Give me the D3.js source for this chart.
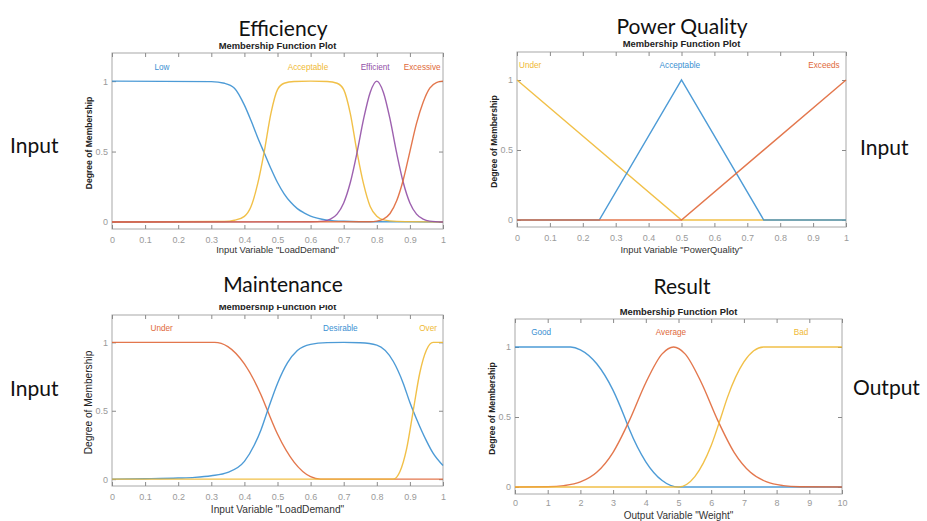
<!DOCTYPE html>
<html>
<head>
<meta charset="utf-8">
<script src="https://cdn.jsdelivr.net/npm/d3@7"></script>
<style>
  body { margin: 0; background: #fff; }
  svg text { font-family: "Liberation Sans", Arial, sans-serif; }
</style>
</head>
<body>
<div id="chart"></div>
<script>
var W = 927, H = 521;

// colours (MATLAB defaults, slightly softened)
var BLUE = '#3a90d2', ORANGE = '#e0683a', YELLOW = '#efb934', PURPLE = '#9250a6';

// ---- Efficiency (x: LoadDemand 0..1)
var effLow = [[0,1],[0.3,0.997],[0.34,0.985],[0.37,0.95],[0.4,0.83],[0.42,0.72],[0.44,0.6],[0.46,0.49],[0.48,0.38],[0.5,0.28],[0.52,0.2],[0.54,0.14],[0.56,0.095],[0.58,0.065],[0.6,0.042],[0.62,0.027],[0.65,0.013],[0.7,0.005],[0.8,0.001],[1,0]];
var effAcceptable = [[0,0],[0.34,0.003],[0.37,0.012],[0.4,0.04],[0.42,0.11],[0.44,0.27],[0.46,0.5],[0.48,0.77],[0.5,0.94],[0.52,0.985],[0.55,0.998],[0.6,1],[0.65,0.998],[0.68,0.985],[0.7,0.94],[0.72,0.77],[0.74,0.5],[0.76,0.27],[0.78,0.11],[0.8,0.04],[0.82,0.015],[0.86,0.004],[1,0]];
var effEfficient = [[0,0],[0.6,0.001],[0.64,0.006],[0.66,0.02],[0.68,0.056],[0.7,0.135],[0.72,0.28],[0.74,0.49],[0.76,0.73],[0.78,0.92],[0.8,1],[0.82,0.92],[0.84,0.73],[0.86,0.49],[0.88,0.28],[0.9,0.135],[0.92,0.056],[0.94,0.02],[0.96,0.006],[1,0]];
var effExcessive = [[0,0],[0.78,0.001],[0.8,0.006],[0.82,0.02],[0.84,0.06],[0.86,0.15],[0.88,0.3],[0.9,0.5],[0.92,0.7],[0.94,0.85],[0.96,0.95],[0.98,0.99],[1,1]];

// ---- Power Quality (triangles)
var pqUnder = [[0,1],[0.5,0],[1,0]];
var pqAcceptable = [[0,0],[0.25,0],[0.5,1],[0.75,0],[1,0]];
var pqExceeds = [[0,0],[0.5,0],[1,1]];

// ---- Maintenance
var mtUnder = [[0,1],[0.31,1],[0.35,0.969],[0.4,0.842],[0.45,0.617],[0.47,0.5],[0.5,0.33],[0.55,0.125],[0.6,0.018],[0.63,0],[1,0]];
var mtDesirable = [[0,0],[0.1,0.003],[0.2,0.008],[0.25,0.013],[0.3,0.025],[0.35,0.05],[0.4,0.13],[0.43,0.25],[0.45,0.36],[0.47,0.5],[0.5,0.7],[0.53,0.85],[0.56,0.94],[0.6,0.985],[0.65,0.998],[0.7,1],[0.75,0.997],[0.8,0.98],[0.85,0.86],[0.88,0.7],[0.9,0.56],[0.92,0.44],[0.95,0.28],[0.97,0.19],[1,0.1]];
var mtOver = [[0,0],[0.85,0],[0.87,0.056],[0.89,0.222],[0.91,0.5],[0.93,0.778],[0.95,0.944],[0.97,1],[1,1]];

// ---- Result (x: Weight 0..10)
var rsGood = [[0,1],[1.7,1],[2,0.98],[2.5,0.88],[3,0.69],[3.35,0.5],[3.5,0.41],[4,0.18],[4.5,0.046],[5,0],[10,0]];
var rsAverage = [[0,0],[1,0.002],[1.5,0.01],[2,0.036],[2.5,0.105],[3,0.248],[3.5,0.476],[4,0.745],[4.5,0.951],[4.85,1],[5.2,0.951],[5.7,0.745],[6.2,0.476],[6.7,0.248],[7.2,0.105],[7.7,0.036],[8.2,0.01],[8.7,0.002],[10,0]];
var rsBad = [[0,0],[5,0],[5.5,0.074],[6,0.296],[6.3,0.5],[6.5,0.642],[7,0.893],[7.3,0.973],[7.6,1],[10,1]];

var xTicks01 = [0,0.1,0.2,0.3,0.4,0.5,0.6,0.7,0.8,0.9,1];
var xTicks10 = [0,1,2,3,4,5,6,7,8,9,10];
var yTicks = [0,0.5,1];

var panels = [
  { title: 'Efficiency', box: [112,53,443,229], tx: 283, ty: 36, sy: 49, xdom: [0,1], ticks: xTicks01, tickY: 243, xlab: 'Input Variable "LoadDemand"', xlabY: 253, ylabBold: true, ylabSize: 8.6,
    series: [
      { data: effLow, color: BLUE, name: 'Low', lx: 0.151 },
      { data: effAcceptable, color: YELLOW, name: 'Acceptable', lx: 0.592 },
      { data: effEfficient, color: PURPLE, name: 'Efficient', lx: 0.795 },
      { data: effExcessive, color: ORANGE, name: 'Excessive', lx: 0.937 }
    ], labY: 70, smooth: true },
  { title: 'Power Quality', box: [517,52,846,227], tx: 682, ty: 34, sy: 47, xdom: [0,1], ticks: xTicks01, tickY: 241, xlab: 'Input Variable "PowerQuality"', xlabY: 253, ylabBold: true, ylabSize: 8.6,
    series: [
      { data: pqUnder, color: YELLOW, name: 'Under', lx: 0.0, anchor: 'start' },
      { data: pqAcceptable, color: BLUE, name: 'Acceptable', lx: 0.495 },
      { data: pqExceeds, color: ORANGE, name: 'Exceeds', lx: 0.933 }
    ], labY: 68, smooth: false },
  { title: 'Maintenance', box: [112,315,443,486], tx: 283, ty: 292, sy: 310, clipTop: 305, xdom: [0,1], ticks: xTicks01, tickY: 500, xlab: 'Input Variable "LoadDemand"', xlabY: 513, xlabSize: 10.2, ylabBold: false, ylabSize: 10.2,
    series: [
      { data: mtUnder, color: ORANGE, name: 'Under', lx: 0.15 },
      { data: mtDesirable, color: BLUE, name: 'Desirable', lx: 0.69 },
      { data: mtOver, color: YELLOW, name: 'Over', lx: 0.955 }
    ], labY: 331, smooth: true },
  { title: 'Result', box: [515,319,842,494], tx: 682, ty: 294, sy: 315, xdom: [0,10], ticks: xTicks10, tickY: 506, xlab: 'Output Variable "Weight"', xlabY: 519, xlabSize: 10, ylabBold: true, ylabSize: 8.6,
    series: [
      { data: rsGood, color: BLUE, name: 'Good', lx: 0.8 },
      { data: rsAverage, color: ORANGE, name: 'Average', lx: 4.77 },
      { data: rsBad, color: YELLOW, name: 'Bad', lx: 8.75 }
    ], labY: 335, smooth: true }
];

var sideLabels = [
  { text: 'Input', x: 10, y: 153, anchor: 'start' },
  { text: 'Input', x: 860, y: 155, anchor: 'start' },
  { text: 'Input', x: 10, y: 396, anchor: 'start' },
  { text: 'Output', x: 853, y: 395, anchor: 'start' }
];

var svg = d3.select('#chart').append('svg')
  .attr('width', W)
  .attr('height', H);

panels.forEach(function (p, pi) {
  var x0 = p.box[0], y0 = p.box[1], x1 = p.box[2], y1 = p.box[3];

  var xScale = d3.scaleLinear().domain(p.xdom).range([x0, x1]);
  var yScale = d3.scaleLinear().domain([-0.05, 1.2]).range([y1, y0]);

  var g = svg.append('g');

  // big title
  g.append('text')
    .attr('x', p.tx).attr('y', p.ty)
    .attr('text-anchor', 'middle')
    .style('font-family', 'Lato, "Open Sans", sans-serif')
    .style('font-size', '21px')
    .style('fill', '#111')
    .text(p.title);

  // small matlab title
  var sub = g.append('text')
    .attr('x', (x0 + x1) / 2).attr('y', p.sy)
    .attr('text-anchor', 'middle')
    .style('font-size', '9.4px')
    .style('font-weight', 'bold')
    .style('fill', '#222')
    .text('Membership Function Plot');
  if (p.clipTop) {
    svg.append('clipPath').attr('id', 'clip' + pi)
      .append('rect').attr('x', x0).attr('y', p.clipTop).attr('width', x1 - x0).attr('height', 20);
    sub.attr('clip-path', 'url(#clip' + pi + ')');
  }

  // box
  g.append('rect')
    .attr('x', x0).attr('y', y0)
    .attr('width', x1 - x0).attr('height', y1 - y0)
    .attr('fill', '#fff')
    .attr('stroke', '#a8a8a8')
    .attr('stroke-width', 1);

  // axes: bottom with labels, others tick only (inward)
  var bottom = d3.axisBottom(xScale).tickValues(p.ticks).tickSize(-4).tickPadding(6)
    .tickFormat(function (d) { return d3.format('~g')(d); });
  var top = d3.axisTop(xScale).tickValues(p.ticks).tickSize(-4).tickFormat('');
  var left = d3.axisLeft(yScale).tickValues(yTicks).tickSize(-4).tickPadding(4)
    .tickFormat(function (d) { return d3.format('~g')(d); });
  var right = d3.axisRight(yScale).tickValues(yTicks).tickSize(-4).tickFormat('');

  var gb = g.append('g').attr('transform', 'translate(0,' + y1 + ')').call(bottom);
  var gt = g.append('g').attr('transform', 'translate(0,' + y0 + ')').call(top);
  var gl = g.append('g').attr('transform', 'translate(' + x0 + ',0)').call(left);
  var gr = g.append('g').attr('transform', 'translate(' + x1 + ',0)').call(right);
  [gb, gt, gl, gr].forEach(function (a) {
    a.select('.domain').remove();
    a.selectAll('.tick line').attr('stroke', '#8a8a8a');
    a.selectAll('.tick text').style('fill', '#9a9a9a').style('font-size', '9px')
      .style('font-family', '"Liberation Sans", Arial, sans-serif');
  });
  gb.selectAll('.tick text').attr('y', null).attr('dy', null)
    .attr('y', p.tickY - y1);

  // axis labels
  g.append('text')
    .attr('x', (x0 + x1) / 2).attr('y', p.xlabY)
    .attr('text-anchor', 'middle')
    .style('font-size', (p.xlabSize || 9.4) + 'px')
    .style('fill', '#333')
    .text(p.xlab);

  g.append('text')
    .attr('transform', 'translate(' + (x0 - 20) + ',' + ((y0 + y1) / 2 + 2) + ') rotate(-90)')
    .attr('text-anchor', 'middle')
    .style('font-size', p.ylabSize + 'px')
    .style('font-weight', p.ylabBold ? 'bold' : 'normal')
    .style('fill', '#222')
    .text('Degree of Membership');

  // curves
  var line = d3.line()
    .x(function (d) { return xScale(d[0]); })
    .y(function (d) { return yScale(d[1]); })
    .curve(p.smooth ? d3.curveMonotoneX : d3.curveLinear);

  g.selectAll('path.mf')
    .data(p.series)
    .enter()
    .append('path')
    .attr('class', 'mf')
    .attr('d', function (s) { return line(s.data); })
    .attr('fill', 'none')
    .attr('stroke', function (s) { return s.color; })
    .attr('stroke-width', 1.4)
    .attr('stroke-opacity', 0.9);

  g.selectAll('text.mflab')
    .data(p.series)
    .enter()
    .append('text')
    .attr('class', 'mflab')
    .attr('x', function (s) { return s.anchor === 'start' ? xScale(s.lx) + 2 : xScale(s.lx); })
    .attr('y', p.labY)
    .attr('text-anchor', function (s) { return s.anchor || 'middle'; })
    .style('font-size', '8.2px')
    .style('fill', function (s) { return s.color; })
    .text(function (s) { return s.name; });
});

svg.selectAll('text.side')
  .data(sideLabels)
  .enter()
  .append('text')
  .attr('class', 'side')
  .attr('x', function (d) { return d.x; })
  .attr('y', function (d) { return d.y; })
  .attr('text-anchor', function (d) { return d.anchor; })
  .style('font-family', 'Lato, "Open Sans", sans-serif')
  .style('font-size', '21px')
  .style('fill', '#111')
  .text(function (d) { return d.text; });
</script>
</body>
</html>
